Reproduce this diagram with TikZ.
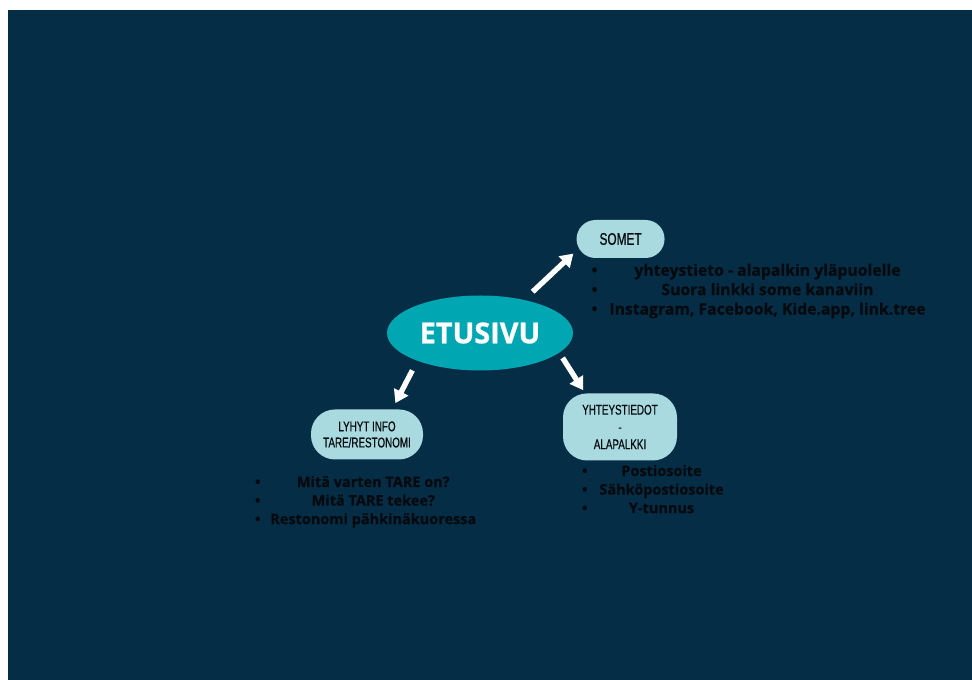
\documentclass[tikz,border=0pt]{standalone}
\usepackage{fontspec}
\setmainfont{Open Sans}[BoldFeatures={FakeBold=0.8}]
\newfontfamily\pillfont[FakeStretch=0.7,FakeBold=0.6]{Liberation Sans}
\usepackage{xcolor}
\usetikzlibrary{arrows.meta,positioning,calc,shapes.geometric}

\definecolor{bgnavy}{HTML}{062D46}
\definecolor{hubteal}{HTML}{00A6B2}
\definecolor{pillblue}{HTML}{A8DADF}
\definecolor{inkdark}{HTML}{050A0E}

\begin{document}
\begin{tikzpicture}[
        >={Triangle[width=11pt,length=9pt]},
        hub/.style={
            ellipse,
            fill=hubteal,
            text=white,
            font=\fontsize{20.5}{24}\selectfont\bfseries,
            minimum width=4.65cm,
            minimum height=1.875cm,
            inner sep=0pt
        },
        pill/.style={
            fill=pillblue,
            text=inkdark,
            align=center,
            inner sep=0pt,
            font=\pillfont\fontsize{10}{11.5}\selectfont
        },
        bullets/.style={
            inner sep=0pt,
            text=inkdark,
            font=\bfseries\fontsize{10.3}{13.2}\selectfont
        },
        arrow/.style={->, white, line width=3.8pt}
    ]

    % page and background
    \fill[white] (0,0) rectangle (24.3,17);
    \fill[bgnavy] (0.2,0) rectangle (24.3,16.75);
    \useasboundingbox (0,0) rectangle (24.3,17);

    \node[hub] (etusivu) at (12,8.675) {ETUSIVU};

    \node[pill, minimum width=2.2cm, minimum height=0.95cm, rounded corners=0.475cm,
        font=\pillfont\fontsize{12}{13}\selectfont,
        right=0.075cm of etusivu, yshift=2.35cm] (somet) {SOMET};

    \node[pill, minimum width=2.8cm, minimum height=1.25cm, rounded corners=0.6cm,
        below=0.96cm of etusivu, xshift=-2.825cm] (lyhyt) {
        LYHYT INFO\\TARE/RESTONOMI
    };

    \node[pill, minimum width=2.85cm, minimum height=1.675cm, rounded corners=0.6cm,
        font=\pillfont\fontsize{10}{12.3}\selectfont,
        below=0.56cm of etusivu, xshift=3.5cm] (yhteys) {
        YHTEYSTIEDOT\\-\\ALAPALKKI
    };

    % bullet lists
    \node[bullets, font=\bfseries\fontsize{11.2}{13.8}\selectfont,
        below=0.09cm of somet.south west, anchor=north west, xshift=0.375cm] (someList) {%
        \begin{tabular}{@{}c@{\hspace{8.5pt}}c@{}}
            • & yhteystieto - alapalkin yläpuolelle\\
            • & Suora linkki some kanaviin\\
            • & Instagram, Facebook, Kide.app, link.tree
        \end{tabular}};

    \node[bullets, below=0.35cm of lyhyt.south west, anchor=north west, xshift=-1.4cm] (infoList) {%
        \begin{tabular}{@{}c@{\hspace{7pt}}c@{}}
            • & Mitä varten TARE on?\\
            • & Mitä TARE tekee?\\
            • & Restonomi pähkinäkuoressa
        \end{tabular}};

    \node[bullets, below=0.05cm of yhteys.south west, anchor=north west, xshift=0.475cm] (contactList) {%
        \begin{tabular}{@{}c@{\hspace{8.5pt}}c@{}}
            • & Postiosoite\\
            • & Sähköpostiosoite\\
            • & Y-tunnus
        \end{tabular}};

    \draw[arrow, shorten <=0.29cm, shorten >=0.1cm] (etusivu.37) -- (somet.195);
    \draw[arrow, shorten <=0.265cm, shorten >=0.17cm] (etusivu.204) -- (lyhyt.45);
    \draw[arrow, shorten <=0.15cm, shorten >=0.09cm] (etusivu.346) -- (yhteys.136);

\end{tikzpicture}
\end{document}
